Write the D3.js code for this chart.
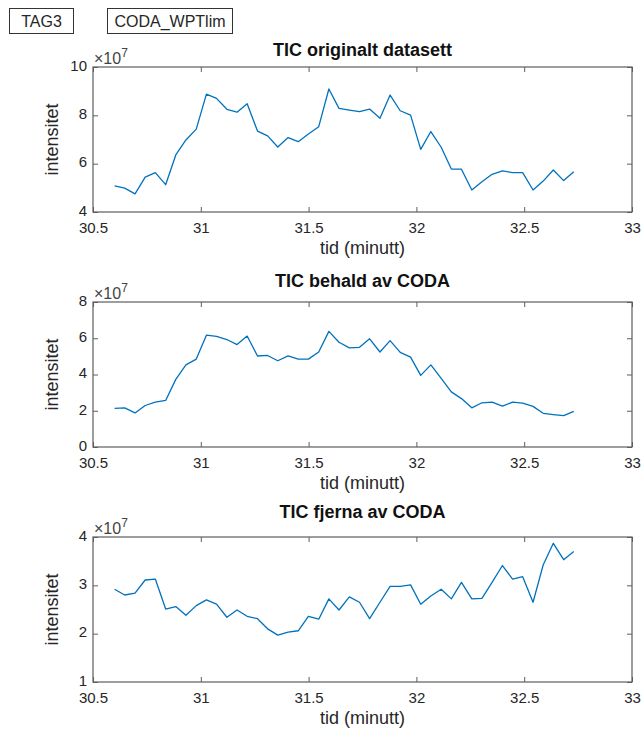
<!DOCTYPE html>
<html>
<head>
<meta charset="utf-8">
<script src="https://cdn.jsdelivr.net/npm/d3@7"></script>
<style>
  body { margin: 0; background: #fff; }
  svg { font-family: "Liberation Sans", Arial, sans-serif; }
</style>
</head>
<body>
<div id="chart"></div>
<script>
// retention time (minutes), shared by all three panels
let tid = [30.600, 30.647, 30.695, 30.742, 30.789, 30.837, 30.884, 30.931, 30.979, 31.026,
  31.073, 31.121, 31.168, 31.215, 31.263, 31.310, 31.357, 31.405, 31.452, 31.499,
  31.547, 31.594, 31.641, 31.689, 31.736, 31.783, 31.831, 31.878, 31.925, 31.973,
  32.020, 32.067, 32.115, 32.162, 32.209, 32.257, 32.304, 32.351, 32.399, 32.446,
  32.493, 32.541, 32.588, 32.635, 32.683, 32.730]

// TIC values, in units of 1e7
let ticOriginal = [5.08, 4.99, 4.75, 5.44, 5.63, 5.13, 6.36, 6.98, 7.43, 8.88,
  8.70, 8.25, 8.13, 8.48, 7.35, 7.15, 6.69, 7.08, 6.91, 7.23,
  7.53, 9.09, 8.29, 8.22, 8.15, 8.26, 7.88, 8.84, 8.19, 8.01,
  6.59, 7.33, 6.68, 5.78, 5.77, 4.91, 5.25, 5.56, 5.70, 5.63,
  5.63, 4.91, 5.28, 5.74, 5.30, 5.67]

let ticBehald = [2.13, 2.16, 1.88, 2.29, 2.48, 2.57, 3.73, 4.53, 4.85, 6.17,
  6.10, 5.93, 5.65, 6.12, 5.02, 5.05, 4.76, 5.03, 4.85, 4.85,
  5.24, 6.38, 5.78, 5.47, 5.50, 5.97, 5.24, 5.87, 5.22, 4.96,
  3.95, 4.53, 3.79, 3.04, 2.67, 2.16, 2.44, 2.48, 2.25, 2.48,
  2.42, 2.24, 1.86, 1.79, 1.73, 1.96]

let ticFjerna = [2.92, 2.80, 2.84, 3.11, 3.13, 2.51, 2.56, 2.38, 2.58, 2.70,
  2.61, 2.34, 2.49, 2.36, 2.31, 2.10, 1.97, 2.03, 2.06, 2.36,
  2.30, 2.72, 2.49, 2.76, 2.65, 2.31, 2.65, 2.98, 2.98, 3.01,
  2.61, 2.78, 2.92, 2.72, 3.06, 2.72, 2.73, 3.06, 3.41, 3.13,
  3.18, 2.65, 3.42, 3.87, 3.53, 3.70]

let titles = ["TIC originalt datasett", "TIC behald av CODA", "TIC fjerna av CODA"]
let yDomains = [[4, 10], [0, 8], [1, 4]]
let yTicks = [[4, 6, 8, 10], [0, 2, 4, 6, 8], [1, 2, 3, 4]]
let xDomain = [30.5, 33]
let xTicks = [30.5, 31, 31.5, 32, 32.5, 33]
let boxLabels = ["TAG3", "CODA_WPTlim"]

let series = [ticOriginal, ticBehald, ticFjerna]

let W = 642, H = 733
let left = 93, right = 632, plotH = 145
let tops = [67, 302, 537]
let titleGap = [11, 15, 19]
let axisColor = "#5e5e5e"
let textColor = "#262626"

let svg = d3.select("#chart")
  .append("svg")
  .attr("width", W)
  .attr("height", H)

// the two labelled boxes in the top-left corner
let boxX = [9, 107], boxW = [64, 125]
boxLabels.forEach((lab, i) => {
  svg.append("rect")
    .attr("x", boxX[i] + 0.5).attr("y", 8.5)
    .attr("width", boxW[i]).attr("height", 25)
    .attr("fill", "none").attr("stroke", "#333").attr("stroke-width", 1)
  svg.append("text")
    .attr("x", boxX[i] + boxW[i] / 2 + 0.5).attr("y", 27)
    .attr("text-anchor", "middle")
    .attr("font-size", 16).attr("fill", textColor)
    .text(lab)
})

let x = d3.scaleLinear().domain(xDomain).range([left, right])

series.forEach((vals, p) => {
  let top = tops[p], bottom = top + plotH
  let y = d3.scaleLinear().domain(yDomains[p]).range([bottom, top])
  let g = svg.append("g")

  // data line
  let pts = tid.map((t, i) => [t, vals[i]])
  g.append("path")
    .datum(pts)
    .attr("fill", "none")
    .attr("stroke", "#0072BD")
    .attr("stroke-width", 1.3)
    .attr("stroke-linejoin", "round")
    .attr("d", d3.line().x(d => x(d[0])).y(d => y(d[1])))

  // bottom axis, ticks pointing inward
  let xa = g.append("g")
    .attr("transform", `translate(0,${bottom})`)
    .call(d3.axisBottom(x).tickValues(xTicks).tickSizeInner(-5).tickSizeOuter(0)
      .tickPadding(10).tickFormat(d3.format("")))
  // top mirror ticks
  let xt = g.append("g")
    .attr("transform", `translate(0,${top})`)
    .call(d3.axisTop(x).tickValues(xTicks).tickSizeInner(-5).tickSizeOuter(0).tickFormat(""))
  // left axis
  let ya = g.append("g")
    .attr("transform", `translate(${left},0)`)
    .call(d3.axisLeft(y).tickValues(yTicks[p]).tickSizeInner(-5).tickSizeOuter(0)
      .tickPadding(6).tickFormat(d3.format("d")))
  // right mirror ticks
  let yr = g.append("g")
    .attr("transform", `translate(${right},0)`)
    .call(d3.axisRight(y).tickValues(yTicks[p]).tickSizeInner(-5).tickSizeOuter(0).tickFormat(""))

  ;[xa, xt, ya, yr].forEach(a => {
    a.select(".domain").remove()
    a.selectAll("line").attr("stroke", axisColor)
    a.selectAll("text").attr("font-size", 15).attr("fill", textColor)
      .attr("font-family", "Liberation Sans, Arial, sans-serif")
  })
  ya.selectAll("text").attr("dy", "0.22em")

  // box around the axes
  g.append("rect")
    .attr("x", left).attr("y", top)
    .attr("width", right - left).attr("height", plotH)
    .attr("fill", "none").attr("stroke", axisColor).attr("stroke-width", 1.2)

  // exponent label
  let ex = g.append("text")
    .attr("x", left + 1).attr("y", top - 3)
    .attr("font-size", 16).attr("fill", "#444")
  ex.append("tspan").text("\u00d710")
  ex.append("tspan").attr("dy", -7).attr("font-size", 12).text("7")

  // title
  g.append("text")
    .attr("x", (left + right) / 2).attr("y", top - titleGap[p])
    .attr("text-anchor", "middle")
    .attr("font-size", 18).attr("font-weight", "bold").attr("fill", "#111")
    .text(titles[p])

  // axis labels
  g.append("text")
    .attr("x", (left + right) / 2).attr("y", bottom + 42)
    .attr("text-anchor", "middle")
    .attr("font-size", 18).attr("fill", textColor)
    .text("tid (minutt)")

  g.append("text")
    .attr("transform", `translate(58,${(top + bottom) / 2}) rotate(-90)`)
    .attr("text-anchor", "middle")
    .attr("font-size", 18).attr("fill", textColor)
    .text("intensitet")
})
</script>
</body>
</html>
